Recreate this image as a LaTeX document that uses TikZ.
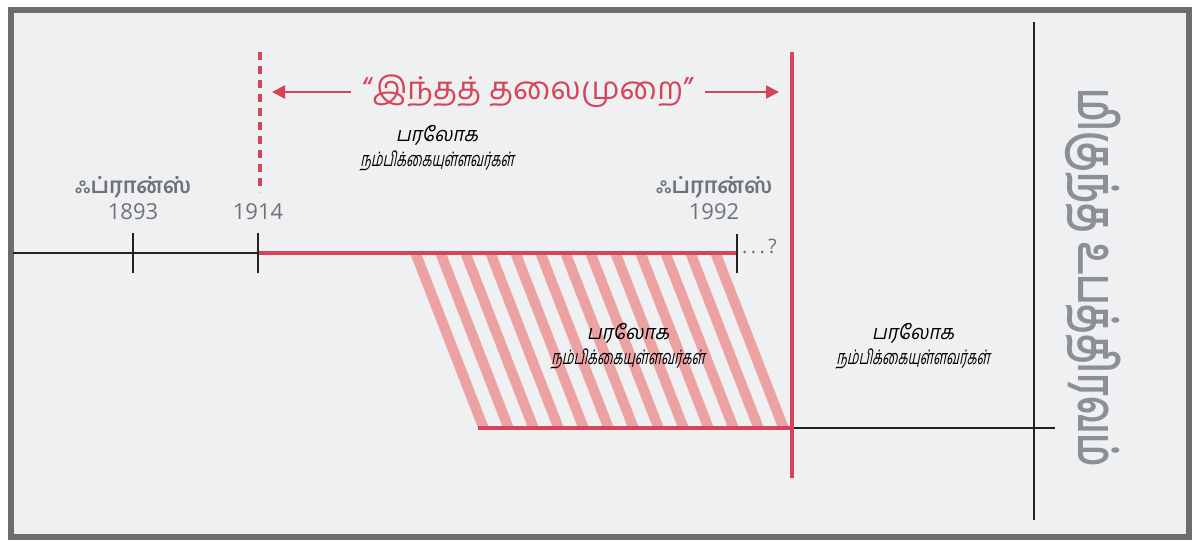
\documentclass[tikz,border=0pt]{standalone}
\usepackage{fontspec}
\usetikzlibrary{arrows.meta}
\newfontfamily\tam[Script=Tamil]{Hind Madurai}
\newfontfamily\tamslA[Script=Tamil,FakeSlant=0.2,FakeStretch=0.95]{Hind Madurai}
\newfontfamily\tamslB[Script=Tamil,FakeSlant=0.2,FakeStretch=0.65]{Hind Madurai}
\newfontfamily\tamv[Script=Tamil,FakeStretch=0.69]{Hind Madurai}
\newfontfamily\numf{Open Sans}
\definecolor{bgc}{HTML}{EFF0F2}
\definecolor{framec}{HTML}{6B6E70}
\definecolor{redc}{RGB}{214,69,87}
\definecolor{pinkc}{RGB}{236,162,162}
\definecolor{greyt}{HTML}{6F7378}
\definecolor{greyv}{HTML}{8C9095}
\definecolor{blk}{HTML}{222222}
\newcommand{\twoline}[2]{{\tamslA #1}\\{\tamslB #2}}
\tikzset{
  frameline/.style={draw=framec,line width=6pt},
  blackline/.style={draw=blk,line width=2pt},
  redline/.style={draw=redc,line width=4.5pt},
  reddash/.style={draw=redc,line width=4pt,dash pattern=on 8pt off 6pt},
  redarrow/.style={draw=redc,line width=2pt,-{Triangle[length=13pt,width=13pt]}},
  tickline/.style={draw=blk,line width=2pt},
  stripe/.style={fill=pinkc},
  lbl/.style={font=\tamslA\fontsize{20}{25}\selectfont,align=center,text=black,inner sep=0pt},
  frl/.style={font=\tam\bfseries\fontsize{22}{24}\selectfont,text=greyt,inner sep=0pt},
  yrl/.style={font=\numf\fontsize{22}{24}\selectfont,text=greyt,inner sep=0pt},
  titl/.style={font=\tam\fontsize{31.5}{36}\selectfont,text=redc,inner xsep=11pt,inner ysep=0pt},
  vtxt/.style={font=\tamv\bfseries\fontsize{53}{56}\selectfont,text=greyv,rotate=-90,inner sep=0pt}
}
\begin{document}
\begin{tikzpicture}[x=1pt,y=-1pt]
\useasboundingbox (0,0) rectangle (1200,547);
\fill[white] (0,0) rectangle (1200,547);
\draw[frameline,fill=bgc] (11,10) rectangle (1189,537);

% hatched stripes
\foreach \k in {0,...,12}{
  \fill[stripe] ({410+25*\k},253) -- ({421+25*\k},253) -- ({489+25*\k},428) -- ({478+25*\k},428) -- cycle;
}

% coordinates
\coordinate (tlS) at (13,253);
\coordinate (t93) at (133,253);
\coordinate (t14) at (258,253);
\coordinate (t92) at (737,253);
\coordinate (bS) at (478,428);
\coordinate (bM) at (792,428);
\coordinate (bE) at (1055,428);
\coordinate (vTop) at (792,52);
\coordinate (vBot) at (792,478);
\coordinate (dTop) at (260,52);
\coordinate (dBot) at (260,192);
\coordinate (kTop) at (1034,22);
\coordinate (kBot) at (1034,520);
\coordinate (aL) at (272,92);
\coordinate (aR) at (779,92);

% top timeline
\draw[blackline] (tlS) -- (t14);
\draw[redline] (t14) -- (t92);
\draw[tickline] ([yshift=-20pt]t93) -- ([yshift=20pt]t93);
\draw[tickline] ([yshift=-20pt]t14) -- ([yshift=20pt]t14);
\draw[tickline] ([yshift=-20pt]t92) -- ([yshift=19pt]t92);

% bottom timeline
\draw[redline] (bS) -- (bM);
\draw[blackline] (bM) -- (bE);

% verticals
\draw[reddash] (dTop) -- (dBot);
\draw[redline,line width=4pt] (vTop) -- (vBot);
\draw[blackline] (kTop) -- (kBot);

% title with arrows
\node[titl] (title) at (528,91) {“இந்தத் தலைமுறை”};
\draw[redarrow] (title.west |- aL) -- (aL);
\draw[redarrow] (title.east |- aR) -- (aR);

% labels
\node[lbl] (ab) at (437,148) {\twoline{பரலோக}{நம்பிக்கையுள்ளவர்கள்}};
\node[lbl] (mid) at (628,346) {\twoline{பரலோக}{நம்பிக்கையுள்ளவர்கள்}};
\node[lbl] (rt) at (913,346) {\twoline{பரலோக}{நம்பிக்கையுள்ளவர்கள்}};

\node[frl] (f1) at (133,187) {ஃப்ரான்ஸ்};
\node[yrl] (y1) at (133,212) {1893};
\node[yrl] (y2) at (258,212) {1914};
\node[frl] (f2) at (714,187) {ஃப்ரான்ஸ்};
\node[yrl] (y3) at (714,212) {1992};
\node[font=\numf\fontsize{20}{22}\selectfont,text=greyt,inner sep=0pt,anchor=west] (q) at (742,246) {.\,.\,.\,?};

\node[vtxt] (vt) at (1093,278) {மிகுந்த உபத்திரவம்};
\end{tikzpicture}
\end{document}
